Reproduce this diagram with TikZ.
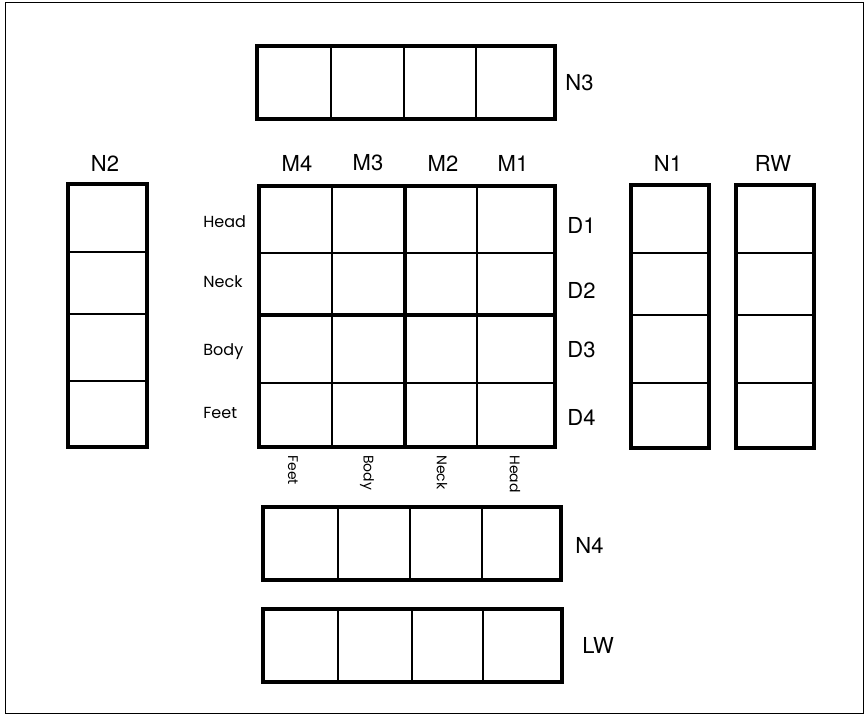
\documentclass[tikz,border=0pt]{standalone}
\usepackage{fontspec}
\setmainfont{TeX Gyre Heros}
\newfontfamily\geofont{Poppins}
\usetikzlibrary{positioning}

\begin{document}
\begin{tikzpicture}[x=0.5pt,y=-0.5pt,
  box/.style={draw,line width=2pt,rectangle,inner sep=0pt,anchor=north west},
  split/.style={line width=0.8pt},
  heavy/.style={line width=2pt},
  lbl/.style={font=\fontsize{11}{13}\selectfont,inner sep=0pt},
  part/.style={font=\geofont\fontsize{8}{9}\selectfont,inner sep=0pt},
  tick/.style={font=\geofont\fontsize{7}{9}\selectfont,inner sep=0pt}]
\useasboundingbox (0,0) rectangle (864,714);
\node (frame) [draw,line width=0.7pt,rectangle,anchor=north west,inner sep=0pt,
  minimum width=429pt,minimum height=355.5pt] at (5,2) {};

% top neighbour strip
\node (n3) [box,minimum width=149pt,minimum height=36.5pt] at (255,44) {};
\foreach \x in {331,404,476} \draw[split] (\x,44) -- (\x,117);
\node (n3l) [lbl,anchor=west] at (565,83) {N3};

% left neighbour strip
\node (n2) [box,minimum width=39.5pt,minimum height=131.5pt] at (66,182) {};
\foreach \y in {252,314,381} \draw[split] (66,\y) -- (145,\y);
\node (n2l) [lbl] at (105,163) {N2};

% main grid
\node (grid) [box,minimum width=148pt,minimum height=130.5pt] at (257,184) {};
\foreach \x in {332,477} \draw[split] (\x,184) -- (\x,445);
\foreach \y in {253,383} \draw[split] (257,\y) -- (553,\y);
\draw[heavy] (405,184) -- (405,445);
\draw[heavy] (257,315) -- (553,315);
\foreach \t/\x in {M4/297,M3/368,M2/443,M1/513}
  \node (col\t) [lbl] at (\x,163) {\t};
\foreach \t/\y in {D1/225,D2/290,D3/350,D4/417}
  \node (row\t) [lbl,anchor=west] at (567,\y) {\t};
\foreach \t/\y in {Head/222,Neck/282,Body/352,Feet/413}
  \node (side\t) [part,anchor=west] at (203,\y) {\t};
\foreach \t/\x in {Feet/293,Body/367,Neck/442,Head/515}
  \node (foot\t) [tick,anchor=west,rotate=-90] at (\x,455) {\t};

% right neighbour strips
\node (n1) [box,minimum width=39pt,minimum height=131.5pt] at (629,183) {};
\node (rw) [box,minimum width=39pt,minimum height=131.5pt] at (734,183) {};
\foreach \y in {253,315,383} {
  \draw[split] (629,\y) -- (707,\y);
  \draw[split] (734,\y) -- (812,\y);
}
\node (n1l) [lbl] at (668,163) {N1};
\node (rwl) [lbl] at (773,163) {RW};

% bottom strips
\node (n4) [box,minimum width=149pt,minimum height=36.5pt] at (261,505) {};
\foreach \x in {338,410,482} \draw[split] (\x,505) -- (\x,578);
\node (n4l) [lbl,anchor=west] at (575,545) {N4};
\node (lw) [box,minimum width=149.5pt,minimum height=36.5pt] at (261,607) {};
\foreach \x in {338,412,483} \draw[split] (\x,607) -- (\x,680);
\node (lwl) [lbl,anchor=west] at (582,645) {LW};
\end{tikzpicture}
\end{document}
